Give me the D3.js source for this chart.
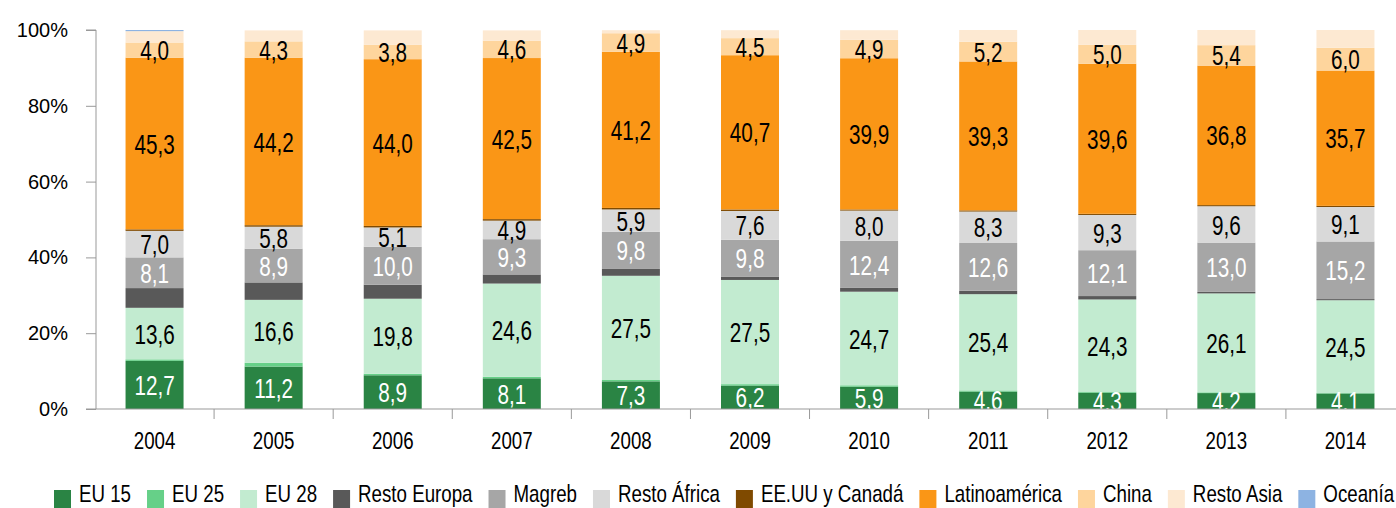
<!DOCTYPE html>
<html>
<head>
<meta charset="utf-8">
<script src="https://cdn.jsdelivr.net/npm/d3@7"></script>
<style>
  body { margin: 0; background: #fff; }
  svg text { font-family: "Liberation Sans", Arial, sans-serif; }
</style>
</head>
<body>
<svg id="canvas" width="1396" height="508"></svg>
<script>
// data (percent of total)
const years = ['2004', '2005', '2006', '2007', '2008', '2009', '2010', '2011', '2012', '2013', '2014'];
const eu15 = [12.7, 11.2, 8.9, 8.1, 7.3, 6.2, 5.9, 4.6, 4.3, 4.2, 4.1];
const eu25 = [0.4, 1.0, 0.4, 0.4, 0.35, 0.35, 0.35, 0.3, 0.3, 0.2, 0.1];
const eu28 = [13.6, 16.6, 19.8, 24.6, 27.5, 27.5, 24.7, 25.4, 24.3, 26.1, 24.5];
const restoEuropa = [5.2, 4.6, 3.7, 2.4, 1.8, 0.8, 1.0, 0.9, 0.9, 0.4, 0.3];
const magreb = [8.1, 8.9, 10.0, 9.3, 9.8, 9.8, 12.4, 12.6, 12.1, 13.0, 15.2];
const restoAfrica = [7.0, 5.8, 5.1, 4.9, 5.9, 7.6, 8.0, 8.3, 9.3, 9.6, 9.1];
const eeuuCanada = [0.4, 0.4, 0.4, 0.4, 0.4, 0.4, 0.3, 0.3, 0.3, 0.3, 0.3];
const latinoamerica = [45.3, 44.2, 44.0, 42.5, 41.2, 40.7, 39.9, 39.3, 39.6, 36.8, 35.7];
const china = [4.0, 4.3, 3.8, 4.6, 4.9, 4.5, 4.9, 5.2, 5.0, 5.4, 6.0];
const restoAsia = [3.0, 2.9, 3.8, 2.7, 0.8, 2.1, 2.5, 3.1, 3.9, 4.0, 4.7];
const oceania = [0.3, 0, 0, 0, 0, 0, 0, 0, 0, 0, 0];
const yTicks = [0, 20, 40, 60, 80, 100];

const series = [
	{ name: 'EU 15', values: eu15, color: '#2a8444', label: '#fff' },
	{ name: 'EU 25', values: eu25, color: '#66d088', label: null },
	{ name: 'EU 28', values: eu28, color: '#c2ebd0', label: '#000' },
	{ name: 'Resto Europa', values: restoEuropa, color: '#595959', label: null },
	{ name: 'Magreb', values: magreb, color: '#a6a6a6', label: '#fff' },
	{ name: 'Resto África', values: restoAfrica, color: '#d9d9d9', label: '#000' },
	{ name: 'EE.UU y Canadá', values: eeuuCanada, color: '#7f4a00', label: null },
	{ name: 'Latinoamérica', values: latinoamerica, color: '#fa9616', label: '#000' },
	{ name: 'China', values: china, color: '#fed59d', label: '#000' },
	{ name: 'Resto Asia', values: restoAsia, color: '#fde9d2', label: null },
	{ name: 'Oceanía', values: oceania, color: '#8db3e2', label: null }
];

const rows = years.map((y, i) => {
	let row = { year: y };
	series.forEach((s) => { row[s.name] = s.values[i]; });
	return row;
});

const svg = d3.select('#canvas');
const x = d3.scaleBand().domain(years).range([95, 1405]).paddingInner(0.513).paddingOuter(0.2565);
const y = d3.scaleLinear().domain([0, 100]).range([409, 30]);

// narrow text: the chart uses a condensed face, squeeze a regular one
const narrow = (sel, px, py, sx) => sel.attr('transform', (d, i) => `translate(${px(d, i)},${py(d, i)}) scale(${sx},1)`);

const stacked = d3.stack().keys(series.map((s) => s.name))(rows);

const layers = svg.selectAll('g.layer')
	.data(stacked)
	.enter()
	.append('g')
	.attr('class', 'layer')
	.attr('fill', (d, i) => series[i].color);

layers.selectAll('rect')
	.data((d) => d)
	.enter()
	.append('rect')
	.attr('x', (d) => x(d.data.year))
	.attr('width', x.bandwidth())
	.attr('y', (d) => y(d[1]))
	.attr('height', (d) => Math.max(0, y(d[0]) - y(d[1])));

// value labels
stacked.forEach((layer, i) => {
	const s = series[i];
	if (!s.label) return;
	svg.append('g')
		.selectAll('text')
		.data(layer)
		.enter()
		.append('text')
		.call(narrow, (d) => x(d.data.year) + x.bandwidth() / 2, (d) => y((d[0] + d[1]) / 2), 0.74)
		.attr('dy', '0.36em')
		.attr('text-anchor', 'middle')
		.attr('font-size', 28)
		.attr('fill', s.label)
		.text((d) => d3.format('.1f')(d.data[s.name]).replace('.', ','));
});

// y axis
const yAxis = svg.append('g')
	.attr('transform', 'translate(96,0)')
	.call(d3.axisLeft(y).tickValues(yTicks).tickSize(10).tickPadding(18).tickFormat((d) => d + '%'));
yAxis.select('.domain').attr('stroke', '#999').attr('d', 'M-10,30H0V409');
yAxis.selectAll('.tick line').attr('stroke', '#999');
yAxis.selectAll('.tick text').attr('font-size', 20).attr('fill', '#000');

// x axis
const xAxis = svg.append('g').attr('transform', 'translate(0,409)');
xAxis.append('line')
	.attr('x1', 86).attr('x2', 1396)
	.attr('stroke', '#999');
xAxis.selectAll('line.sep')
	.data(years)
	.enter()
	.append('line')
	.attr('class', 'sep')
	.attr('x1', (d) => x(d) + x.bandwidth() / 2 + x.step() / 2)
	.attr('x2', (d) => x(d) + x.bandwidth() / 2 + x.step() / 2)
	.attr('y1', 0).attr('y2', 10)
	.attr('stroke', '#999');
xAxis.selectAll('text')
	.data(years)
	.enter()
	.append('text')
	.call(narrow, (d) => x(d) + x.bandwidth() / 2, () => 31, 0.78)
	.attr('dy', '0.36em')
	.attr('text-anchor', 'middle')
	.attr('font-size', 24)
	.text((d) => d);

// legend
const legend = svg.append('g');
const legendScale = 0.78;
let lx = 54;
series.forEach((s) => {
	legend.append('rect')
		.attr('x', lx).attr('y', 490)
		.attr('width', 17).attr('height', 18)
		.attr('fill', s.color);
	const t = legend.append('text')
		.attr('transform', `translate(${lx + 25},502) scale(${legendScale},1)`)
		.attr('font-size', 24)
		.text(s.name);
	lx += 25 + t.node().getComputedTextLength() * legendScale + 16;
});
</script>
</body>
</html>
